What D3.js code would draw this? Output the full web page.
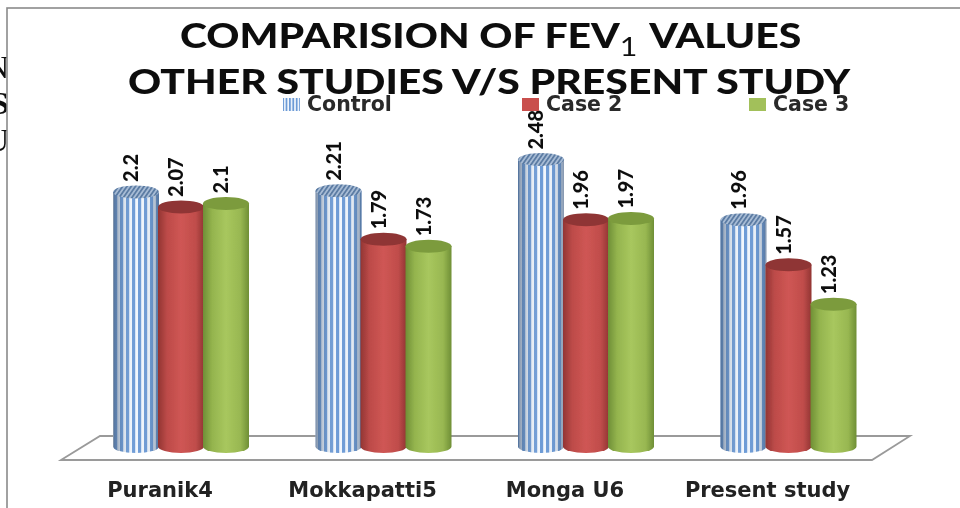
<!DOCTYPE html>
<html lang="en">
<head>
<meta charset="UTF-8">
<title>Comparision of FEV1 values</title>
<script src="https://d3js.org/d3.v7.min.js"></script>
<style>
    body { margin: 0; background: #fff; overflow: hidden; }
    svg { display: block; }
    text { fill: #111; }
    .title { font: 900 35px Lato, sans-serif; }
    .legend { font: bold 20.5px "DejaVu Sans", sans-serif; fill: #2a2a2a; }
    .cat { font: bold 21px "DejaVu Sans", sans-serif; fill: #222; }
    .val { font: 900 20px Lato, sans-serif; }
    .stray { font: 32px "Liberation Serif", serif; }
</style>
</head>
<body>
<svg id="chart" width="960" height="508"></svg>
<script>
const categories = ["Puranik4", "Mokkapatti5", "Monga U6", "Present study"];
const seriesNames = ["Control", "Case 2", "Case 3"];
const control = [2.2, 2.21, 2.48, 1.96];
const case2 = [2.07, 1.79, 1.96, 1.57];
const case3 = [2.1, 1.73, 1.97, 1.23];
const seriesValues = [control, case2, case3];

const svg = d3.select("#chart");
const defs = svg.append("defs");

defs.append("filter").attr("id", "soft")
    .attr("x", "-5%").attr("y", "-5%").attr("width", "110%").attr("height", "110%")
    .append("feGaussianBlur").attr("stdDeviation", 0.6);

function sideGradient(id, stops) {
    const g = defs.append("linearGradient").attr("id", id);
    stops.forEach(s => g.append("stop").attr("offset", s[0]).attr("stop-color", s[1]).attr("stop-opacity", s[2] === undefined ? 1 : s[2]));
}
sideGradient("redSide", [[0, "#923533"], [0.2, "#bd4b49"], [0.5, "#cf5654"], [0.82, "#c04d4b"], [1, "#923533"]]);
sideGradient("greenSide", [[0, "#6f8f36"], [0.2, "#94b44e"], [0.5, "#a8c75e"], [0.82, "#98b751"], [1, "#6f8f36"]]);
sideGradient("shade", [[0, "#4a6385", 0.7], [0.22, "#5a7390", 0.2], [0.5, "#ffffff", 0], [0.8, "#5a7390", 0.1], [1, "#4a6385", 0.65]]);

function stripePattern(id, w, blue) {
    const p = defs.append("pattern").attr("id", id)
        .attr("patternUnits", "userSpaceOnUse").attr("width", w).attr("height", 10);
    p.append("rect").attr("width", w).attr("height", 10).attr("fill", "#f2f7fd");
    p.append("rect").attr("width", blue).attr("height", 10).attr("fill", "#6d9bd6");
}
stripePattern("stripes", 6, 3.2);
stripePattern("stripesSmall", 3.4, 1.8);

const hatch = defs.append("pattern").attr("id", "hatch")
    .attr("patternUnits", "userSpaceOnUse").attr("width", 3.5).attr("height", 3.5)
    .attr("patternTransform", "rotate(35)");
hatch.append("rect").attr("width", 3.5).attr("height", 3.5).attr("fill", "#a9bdd6");
hatch.append("rect").attr("width", 1.8).attr("height", 3.5).attr("fill", "#5b7ba3");

const root = svg.append("g").attr("filter", "url(#soft)");

// leftover text of the page behind the chart, mostly hidden by the frame
root.selectAll(".stray").data([["N", 78, 400], ["S", 114, 700], ["U", 151, 400]])
    .enter().append("text").attr("class", "stray")
    .attr("x", 9).attr("text-anchor", "end")
    .attr("y", d => d[1]).style("font-weight", d => d[2]).text(d => d[0]);

// frame
root.append("rect").attr("x", 7).attr("y", 8).attr("width", 1000).attr("height", 600)
    .attr("fill", "#fff").attr("stroke", "#8a8a8a").attr("stroke-width", 1.6);

// scales
const x0 = d3.scalePoint().domain(categories).range([181, 788.5]);
const x1 = d3.scalePoint().domain(seriesNames).range([-45, 45]);
const y = d3.scaleLinear().domain([0, 2.48]).range([446.5, 159.5]);
const barW = 46, ry = 6.5;

// floor
root.append("path")
    .attr("d", d3.line()([[61, 460], [100, 436], [910, 436], [872, 460]]) + "Z")
    .attr("fill", "#fff").attr("stroke", "#9a9a9a").attr("stroke-width", 1.8);

const looks = {
    "Control": { side: "url(#stripes)", top: "url(#hatch)" },
    "Case 2": { side: "url(#redSide)", top: "#8f3634" },
    "Case 3": { side: "url(#greenSide)", top: "#7b9b3d" }
};

function body(cx, top, bottom) {
    const l = cx - barW / 2, r = cx + barW / 2;
    return `M${l},${top}L${l},${bottom}A${barW / 2},${ry} 0 0 0 ${r},${bottom}L${r},${top}Z`;
}

seriesNames.forEach((name, si) => {
    const look = looks[name];
    const g = root.append("g").selectAll("g")
        .data(seriesValues[si].map((v, i) => ({ v: v, cat: categories[i] })))
        .enter().append("g");
    const cx = d => x0(d.cat) + x1(name);

    g.append("path").attr("d", d => body(cx(d), y(d.v), y(0))).attr("fill", look.side);
    if (name === "Control") {
        g.append("path").attr("d", d => body(cx(d), y(d.v), y(0))).attr("fill", "url(#shade)");
    }
    g.append("ellipse").attr("cx", cx).attr("cy", d => y(d.v))
        .attr("rx", barW / 2).attr("ry", ry).attr("fill", look.top);
});

// value labels go on top of all bars
seriesNames.forEach((name, si) => {
    root.append("g").selectAll("text")
        .data(seriesValues[si].map((v, i) => ({ v: v, cat: categories[i] })))
        .enter().append("text").attr("class", "val")
        .attr("transform", d => `translate(${x0(d.cat) + x1(name) - 5},${y(d.v) - ry - 3.5}) rotate(-90)`)
        .attr("dy", "0.36em")
        .text(d => d.v);
});

// category labels
root.append("g").selectAll("text").data(categories).enter().append("text")
    .attr("class", "cat").attr("text-anchor", "middle")
    .attr("x", d => x0(d) - 21).attr("y", 497)
    .text(d => d);

// title, stretched sideways like the picture it comes from
const t1 = root.append("text").attr("class", "title").attr("transform", "translate(180,48) scale(1.17,1)");
t1.append("tspan").text("COMPARISION OF FEV");
t1.append("tspan").attr("dy", 8).style("font-size", "26px").style("font-weight", 400).text("1");
t1.append("tspan").attr("dy", -8).attr("dx", 3).text(" VALUES");
root.append("text").attr("class", "title").attr("transform", "translate(128,94) scale(1.17,1)")
    .text("OTHER STUDIES V/S PRESENT STUDY");

// legend
const legendX = d3.scaleOrdinal().domain(seriesNames).range([283, 522, 749]);
const legendFill = d3.scaleOrdinal().domain(seriesNames).range(["url(#stripesSmall)", "#c9504e", "#a2c05a"]);
const lg = root.append("g").selectAll("g").data(seriesNames).enter().append("g");
lg.append("rect").attr("x", d => legendX(d)).attr("y", 98).attr("width", 17).attr("height", 13)
    .attr("fill", d => legendFill(d));
lg.append("text").attr("class", "legend").attr("x", d => legendX(d) + 24).attr("y", 111).text(d => d);
</script>
</body>
</html>
